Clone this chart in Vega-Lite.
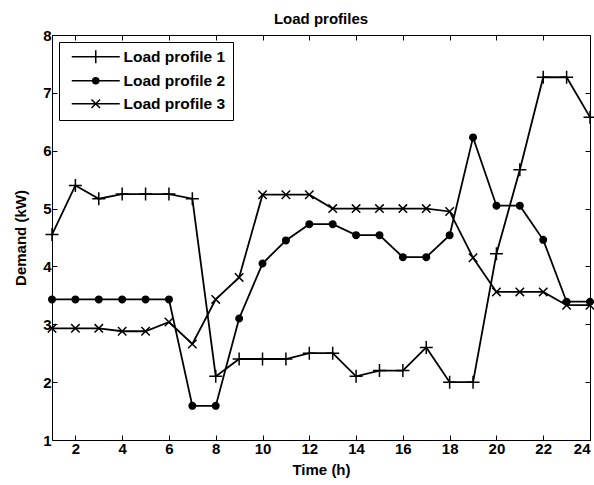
{
  "$schema": "https://vega.github.io/schema/vega-lite/v6.json",
  "width": 538,
  "height": 405,
  "autosize": {"type": "none"},
  "padding": {"left": 52, "top": 35, "right": 4, "bottom": 45},
  "background": "white",
  "title": {"text": "Load profiles", "font": "Liberation Sans", "fontSize": 15, "fontWeight": "bold", "color": "black", "anchor": "middle", "offset": 1},
  "config": {
    "view": {"stroke": "black", "strokeWidth": 1},
    "axis": {
      "domainColor": "black", "domainWidth": 1, "tickColor": "black", "tickSize": -5, "tickWidth": 1,
      "labelColor": "black", "labelFont": "Liberation Sans", "labelFontSize": 15, "labelFontWeight": "bold",
      "titleColor": "black", "titleFont": "Liberation Sans", "titleFontSize": 15, "titleFontWeight": "bold",
      "grid": false
    }
  },
  "data": {"values": [
    {"h":1,"profile":"Load profile 1","kW":4.55},{"h":2,"profile":"Load profile 1","kW":5.4},{"h":3,"profile":"Load profile 1","kW":5.17},{"h":4,"profile":"Load profile 1","kW":5.25},{"h":5,"profile":"Load profile 1","kW":5.25},{"h":6,"profile":"Load profile 1","kW":5.25},{"h":7,"profile":"Load profile 1","kW":5.17},{"h":8,"profile":"Load profile 1","kW":2.1},{"h":9,"profile":"Load profile 1","kW":2.4},{"h":10,"profile":"Load profile 1","kW":2.4},{"h":11,"profile":"Load profile 1","kW":2.4},{"h":12,"profile":"Load profile 1","kW":2.5},{"h":13,"profile":"Load profile 1","kW":2.5},{"h":14,"profile":"Load profile 1","kW":2.1},{"h":15,"profile":"Load profile 1","kW":2.2},{"h":16,"profile":"Load profile 1","kW":2.2},{"h":17,"profile":"Load profile 1","kW":2.6},{"h":18,"profile":"Load profile 1","kW":2.0},{"h":19,"profile":"Load profile 1","kW":2.0},{"h":20,"profile":"Load profile 1","kW":4.22},{"h":21,"profile":"Load profile 1","kW":5.67},{"h":22,"profile":"Load profile 1","kW":7.27},{"h":23,"profile":"Load profile 1","kW":7.27},{"h":24,"profile":"Load profile 1","kW":6.58},
    {"h":1,"profile":"Load profile 2","kW":3.43},{"h":2,"profile":"Load profile 2","kW":3.43},{"h":3,"profile":"Load profile 2","kW":3.43},{"h":4,"profile":"Load profile 2","kW":3.43},{"h":5,"profile":"Load profile 2","kW":3.43},{"h":6,"profile":"Load profile 2","kW":3.43},{"h":7,"profile":"Load profile 2","kW":1.59},{"h":8,"profile":"Load profile 2","kW":1.59},{"h":9,"profile":"Load profile 2","kW":3.1},{"h":10,"profile":"Load profile 2","kW":4.05},{"h":11,"profile":"Load profile 2","kW":4.45},{"h":12,"profile":"Load profile 2","kW":4.73},{"h":13,"profile":"Load profile 2","kW":4.73},{"h":14,"profile":"Load profile 2","kW":4.54},{"h":15,"profile":"Load profile 2","kW":4.54},{"h":16,"profile":"Load profile 2","kW":4.16},{"h":17,"profile":"Load profile 2","kW":4.16},{"h":18,"profile":"Load profile 2","kW":4.54},{"h":19,"profile":"Load profile 2","kW":6.23},{"h":20,"profile":"Load profile 2","kW":5.05},{"h":21,"profile":"Load profile 2","kW":5.05},{"h":22,"profile":"Load profile 2","kW":4.46},{"h":23,"profile":"Load profile 2","kW":3.39},{"h":24,"profile":"Load profile 2","kW":3.39},
    {"h":1,"profile":"Load profile 3","kW":2.93},{"h":2,"profile":"Load profile 3","kW":2.93},{"h":3,"profile":"Load profile 3","kW":2.93},{"h":4,"profile":"Load profile 3","kW":2.88},{"h":5,"profile":"Load profile 3","kW":2.88},{"h":6,"profile":"Load profile 3","kW":3.04},{"h":7,"profile":"Load profile 3","kW":2.66},{"h":8,"profile":"Load profile 3","kW":3.43},{"h":9,"profile":"Load profile 3","kW":3.81},{"h":10,"profile":"Load profile 3","kW":5.24},{"h":11,"profile":"Load profile 3","kW":5.24},{"h":12,"profile":"Load profile 3","kW":5.24},{"h":13,"profile":"Load profile 3","kW":5.0},{"h":14,"profile":"Load profile 3","kW":5.0},{"h":15,"profile":"Load profile 3","kW":5.0},{"h":16,"profile":"Load profile 3","kW":5.0},{"h":17,"profile":"Load profile 3","kW":5.0},{"h":18,"profile":"Load profile 3","kW":4.95},{"h":19,"profile":"Load profile 3","kW":4.15},{"h":20,"profile":"Load profile 3","kW":3.56},{"h":21,"profile":"Load profile 3","kW":3.56},{"h":22,"profile":"Load profile 3","kW":3.56},{"h":23,"profile":"Load profile 3","kW":3.33},{"h":24,"profile":"Load profile 3","kW":3.33}
  ]},
  "layer": [
    {
      "mark": {"type": "line", "color": "black", "strokeWidth": 1.8},
      "encoding": {
        "x": {"field": "h", "type": "quantitative", "scale": {"domain": [1, 24], "nice": false, "zero": false},
              "axis": {"orient": "bottom", "values": [2,4,6,8,10,12,14,16,18,20,22,24], "title": "Time (h)", "labelPadding": 6, "titlePadding": 6}},
        "y": {"field": "kW", "type": "quantitative", "scale": {"domain": [1, 8], "nice": false, "zero": false},
              "axis": {"orient": "left", "values": [1,2,3,4,5,6,7,8], "title": "Demand (kW)", "labelPadding": 6, "titlePadding": 14}},
        "detail": {"field": "profile", "type": "nominal"}
      }
    },
    {
      "mark": {"type": "point", "filled": true, "fill": "black", "stroke": "black", "strokeWidth": 1.5, "opacity": 1, "size": 169},
      "encoding": {
        "x": {"field": "h", "type": "quantitative", "axis": {"orient": "top", "values": [2,4,6,8,10,12,14,16,18,20,22,24], "labels": false, "title": null}},
        "y": {"field": "kW", "type": "quantitative", "axis": {"orient": "right", "values": [1,2,3,4,5,6,7,8], "labels": false, "title": null}},
        "shape": {"field": "profile", "type": "nominal",
          "scale": {"domain": ["Load profile 1", "Load profile 2", "Load profile 3"],
                    "range": ["M-1,0L1,0M0,-1L0,1", "M0.5,0A0.5,0.5,0,1,1,-0.5,0A0.5,0.5,0,1,1,0.5,0Z", "M-0.65,-0.65L0.65,0.65M-0.65,0.65L0.65,-0.65"]},
          "legend": null
        }
      }
    },
    {
      "transform": [{"filter": "false"}],
      "mark": {"type": "point", "filled": true, "fill": "black", "stroke": "black", "strokeWidth": 1.8, "opacity": 1},
      "encoding": {
        "x": {"field": "h", "type": "quantitative", "axis": null},
        "y": {"field": "kW", "type": "quantitative", "axis": null},
        "shape": {"field": "profile", "type": "nominal",
          "scale": {"domain": ["Load profile 1", "Load profile 2", "Load profile 3"],
                    "range": ["M-0.4,0L9.2,0M4.4,-1.3L4.4,1.3", "M-0.4,0L9.2,0M5,0A0.6,0.6,0,1,1,3.8,0A0.6,0.6,0,1,1,5,0Z", "M-0.4,0L9.2,0M3.55,-0.85L5.25,0.85M3.55,0.85L5.25,-0.85"]},
          "legend": {
            "title": null, "orient": "top-left", "offset": 7, "padding": 7,
            "strokeColor": "black", "fillColor": "white",
            "labelFont": "Liberation Sans", "labelFontSize": 15.5, "labelFontWeight": "bold", "labelColor": "black",
            "symbolSize": 100, "labelOffset": 42, "rowPadding": 6
          }
        }
      }
    }
  ],
  "resolve": {"axis": {"x": "independent", "y": "independent"}, "scale": {"shape": "independent"}}
}
